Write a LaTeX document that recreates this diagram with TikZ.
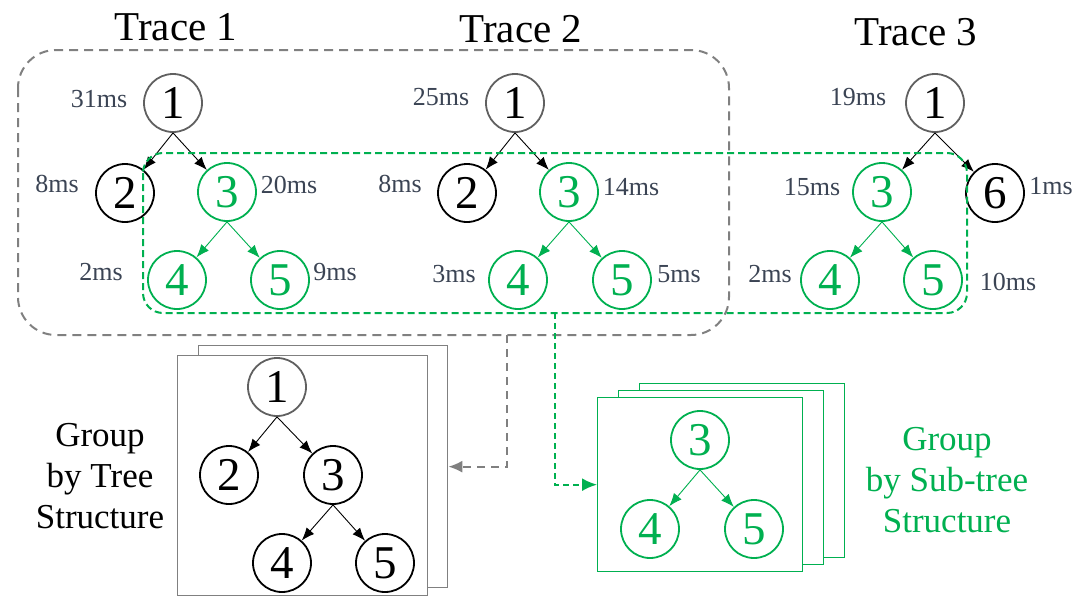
\documentclass[tikz,border=0pt]{standalone}
\usepackage{fontspec}
\setmainfont{Liberation Serif}
\newfontfamily\tnr{Liberation Serif}
\usetikzlibrary{arrows.meta}
\definecolor{tgreen}{HTML}{00B050}
\definecolor{msgray}{HTML}{3B4454}
\definecolor{dashgray}{HTML}{808080}
\definecolor{rootgray}{HTML}{606060}
\begin{document}
\begin{tikzpicture}[x=1pt,y=-1pt,
  span/.style={circle,draw=black,line width=1.8pt,minimum size=58pt,inner sep=0pt,
    font=\tnr\fontsize{47}{47}\selectfont},
  root/.style={span,draw=rootgray},
  sub/.style={span,draw=tgreen,text=tgreen},
  dur/.style={anchor=base,text=msgray,inner sep=0pt,font=\tnr\fontsize{26}{26}\selectfont},
  title/.style={anchor=base,inner sep=0pt,font=\tnr\fontsize{41}{41}\selectfont},
  call/.style={line width=0.9pt,-{Latex[length=13pt,width=10pt]}},
  subcall/.style={call,color=tgreen},
  region/.style={line width=2pt,dash pattern=on 9pt off 6pt},
  sheet/.style={draw=dashgray,fill=white,line width=1.3pt,anchor=north west,inner sep=0pt},
  subsheet/.style={sheet,draw=tgreen},
  caption/.style={align=center,font=\tnr\fontsize{35}{41}\selectfont}]
\useasboundingbox (0,0) rectangle (1078,597);

% titles
\node[title] (t1) at (176,40) {Trace 1};
\node[title] (t2) at (521,42) {Trace 2};
\node[title] (t3) at (916,45) {Trace 3};

% trace 1
\node[root] (a1) at (173,103) {1};
\node[span] (a2) at (125,193) {2};
\node[sub]  (a3) at (227,192) {3};
\node[sub]  (a4) at (177,280) {4};
\node[sub]  (a5) at (280,280) {5};
\draw[call] (a1.south) -- (a2);
\draw[call] (a1.south) -- (a3);
\draw[subcall] (a3.south) -- (a4);
\draw[subcall] (a3.south) -- (a5);
\node[dur] (la1) at (99,107) {31ms};
\node[dur] (la2) at (57,192) {8ms};
\node[dur] (la3) at (289,193) {20ms};
\node[dur] (la4) at (101,280) {2ms};
\node[dur] (la5) at (335,280) {9ms};

% trace 2
\node[root] (b1) at (515,103) {1};
\node[span] (b2) at (467,193) {2};
\node[sub]  (b3) at (569,192) {3};
\node[sub]  (b4) at (518,280) {4};
\node[sub]  (b5) at (622,280) {5};
\draw[call] (b1.south) -- (b2);
\draw[call] (b1.south) -- (b3);
\draw[subcall] (b3.south) -- (b4);
\draw[subcall] (b3.south) -- (b5);
\node[dur] (lb1) at (441,105) {25ms};
\node[dur] (lb2) at (400,192) {8ms};
\node[dur] (lb3) at (631,195) {14ms};
\node[dur] (lb4) at (454,282) {3ms};
\node[dur] (lb5) at (679,282) {5ms};

% trace 3
\node[root] (c1) at (935,103) {1};
\node[sub]  (c3) at (882,192) {3};
\node[span] (c6) at (995,193) {6};
\node[sub]  (c4) at (830,280) {4};
\node[sub]  (c5) at (933,280) {5};
\draw[call] (c1.south) -- (c3);
\draw[call] (c1.south) -- (c6);
\draw[subcall] (c3.south) -- (c4);
\draw[subcall] (c3.south) -- (c5);
\node[dur] (lc1) at (858,105) {19ms};
\node[dur] (lc3) at (812,195) {15ms};
\node[dur] (lc6) at (1051,194) {1ms};
\node[dur] (lc4) at (770,282) {2ms};
\node[dur] (lc5) at (1008,290) {10ms};

% grouping regions
\draw[region,dashgray,rounded corners=38pt] (18,50) rectangle (729,335);
\draw[region,tgreen,dash pattern=on 7pt off 4pt,rounded corners=20pt] (143,153) rectangle (967,313);
\coordinate (treeout) at (507,335);
\coordinate (subout) at (555,313);

% tree-structure group
\node[sheet,minimum width=249pt,minimum height=242pt] (tb2) at (198,345) {};
\node[sheet,minimum width=250pt,minimum height=240pt] (tb1) at (177,355) {};
\node[root] (g1) at (277,387) {1};
\node[span] (g2) at (229,475) {2};
\node[span] (g3) at (333,475) {3};
\node[span] (g4) at (282,563) {4};
\node[span] (g5) at (385,563) {5};
\draw[call] (g1.south) -- (g2);
\draw[call] (g1.south) -- (g3);
\draw[call] (g3.south) -- (g4);
\draw[call] (g3.south) -- (g5);
\node[caption] (cap1) at (100,476) {Group\\by Tree\\Structure};

% sub-tree-structure group
\node[subsheet,minimum width=205pt,minimum height=174pt] (sb3) at (639,383) {};
\node[subsheet,minimum width=205pt,minimum height=174pt] (sb2) at (618,390) {};
\node[subsheet,minimum width=205pt,minimum height=174pt] (sb1) at (597,397) {};
\node[sub] (h3) at (700,440) {3};
\node[sub] (h4) at (650,529) {4};
\node[sub] (h5) at (754,529) {5};
\draw[subcall] (h3.south) -- (h4);
\draw[subcall] (h3.south) -- (h5);
\node[caption,text=tgreen] (cap2) at (947,480) {Group\\by Sub-tree\\Structure};

% grouping flows
\draw[region,dashgray,dash pattern=on 8pt off 6pt,-{Latex[length=14pt,width=12pt]}] (treeout) |- (tb2.east);
\draw[region,tgreen,dash pattern=on 6pt off 4pt,-{Latex[length=15pt,width=13pt]}] (subout) |- (sb1.west);
\end{tikzpicture}
\end{document}
